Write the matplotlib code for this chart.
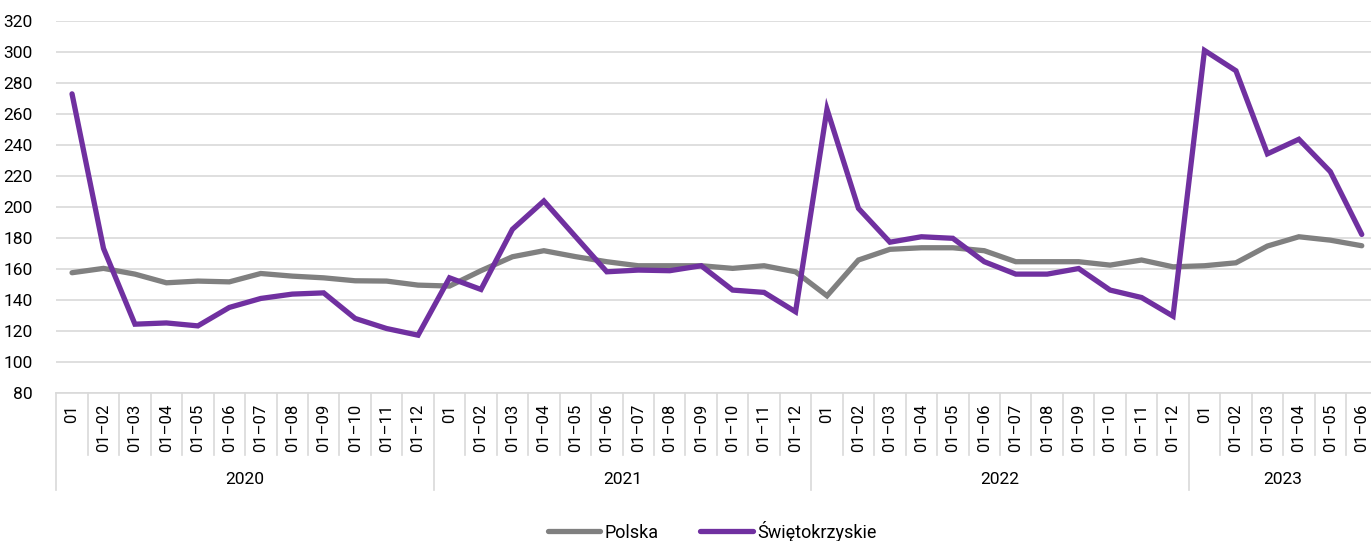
import matplotlib
matplotlib.use("Agg")
import matplotlib.pyplot as plt
import matplotlib.transforms as mtransforms

plt.rcParams['font.family'] = ['Roboto', 'DejaVu Sans']

years = ["2020", "2021", "2022", "2023"]
months_per_year = [12, 12, 12, 6]
month_labels = ["01"] + [f"01\u2013{m:02d}" for m in range(2, 13)]

polska = [157.6, 160.4, 156.7, 151.1, 152.2, 151.7, 157.1, 155.4, 154.3, 152.4, 152.2, 149.6,
          149.0, 158.9, 167.9, 171.8, 168.0, 164.7, 162.1, 162.1, 162.1, 160.4, 162.1, 158.2,
          142.7, 165.8, 172.7, 173.7, 173.7, 171.8, 164.7, 164.7, 164.7, 162.5, 165.8, 161.4,
          162.1, 164.0, 174.8, 180.8, 178.6, 175.0]
swietokrzyskie = [273.0, 173.3, 124.4, 125.2, 123.3, 135.2, 141.0, 143.8, 144.6, 128.1, 121.6, 117.3,
                  154.3, 146.8, 185.6, 203.9, 181.0, 158.2, 159.3, 158.9, 162.1, 146.4, 144.9, 132.4,
                  263.1, 199.1, 177.3, 180.8, 179.8, 164.7, 156.7, 156.7, 160.3, 146.4, 141.6, 129.6,
                  301.0, 287.9, 234.3, 243.7, 222.8, 182.3]
series_names = ["Polska", "Świętokrzyskie"]
colors = ["#808080", "#7030A0"]

cats = []
for n in months_per_year:
    cats += month_labels[:n]
x = list(range(len(cats)))

W, H = 1371, 541
fig = plt.figure(figsize=(W / 100, H / 100), dpi=100)
ax_left, ax_right, ax_top, ax_bot = 56.3, 1377.5, 21, 393
ax = fig.add_axes([ax_left / W, 1 - ax_bot / H, (ax_right - ax_left) / W, (ax_bot - ax_top) / H])

ax.set_ylim(80, 320)
ax.set_xlim(-0.5, len(cats) - 0.5)
ax.set_yticks(range(80, 321, 20))
ax.yaxis.grid(True, color="#D9D9D9", linewidth=1.2)
ax.set_axisbelow(True)
for s in ["top", "right", "left"]:
    ax.spines[s].set_visible(False)
ax.spines["bottom"].set_color("#D9D9D9")
ax.spines["bottom"].set_linewidth(1.2)
ax.tick_params(axis="y", length=0, pad=17, labelsize=12.5, labelcolor="#000000")
ax.set_xticks([])

l1, = ax.plot(x, polska, color=colors[0], linewidth=3.8, solid_joinstyle="miter",
              solid_capstyle="round", label=series_names[0])
l2, = ax.plot(x, swietokrzyskie, color=colors[1], linewidth=3.8, solid_joinstyle="miter",
              solid_capstyle="round", label=series_names[1])

trans = mtransforms.blended_transform_factory(ax.transData, ax.transAxes)
ah = ax_bot - ax_top
month_tick = -62 / ah
year_tick = -97 / ah

# month labels and boundaries
for i, lab in enumerate(cats):
    ax.text(i, -11 / ah, lab, transform=trans, rotation=90, ha="center", va="top",
            fontsize=12, color="#000000")
boundaries = [i - 0.5 for i in range(len(cats) + 1)]
year_bounds = [-0.5]
acc = -0.5
for n in months_per_year:
    acc += n
    year_bounds.append(acc)
for b in boundaries:
    if b in year_bounds:
        continue
    ax.plot([b, b], [0, month_tick], transform=trans, color="#D9D9D9", linewidth=1.2, clip_on=False)
for b in year_bounds[:-1]:
    ax.plot([b, b], [0, year_tick], transform=trans, color="#D9D9D9", linewidth=1.2, clip_on=False)

# year labels
start = 0
for yl, n in zip(years, months_per_year):
    center = start + (n - 1) / 2
    ax.text(center, -86 / ah, yl, transform=trans, ha="center", va="center", fontsize=12.5, color="#000000")
    start += n

fig.legend(handles=[l1, l2], loc="center", bbox_to_anchor=(712 / W, 1 - 531 / H), ncol=2,
           frameon=False, fontsize=13, handlelength=2.9, handletextpad=0.25, columnspacing=2.3)

fig.savefig("out.png", dpi=100)
